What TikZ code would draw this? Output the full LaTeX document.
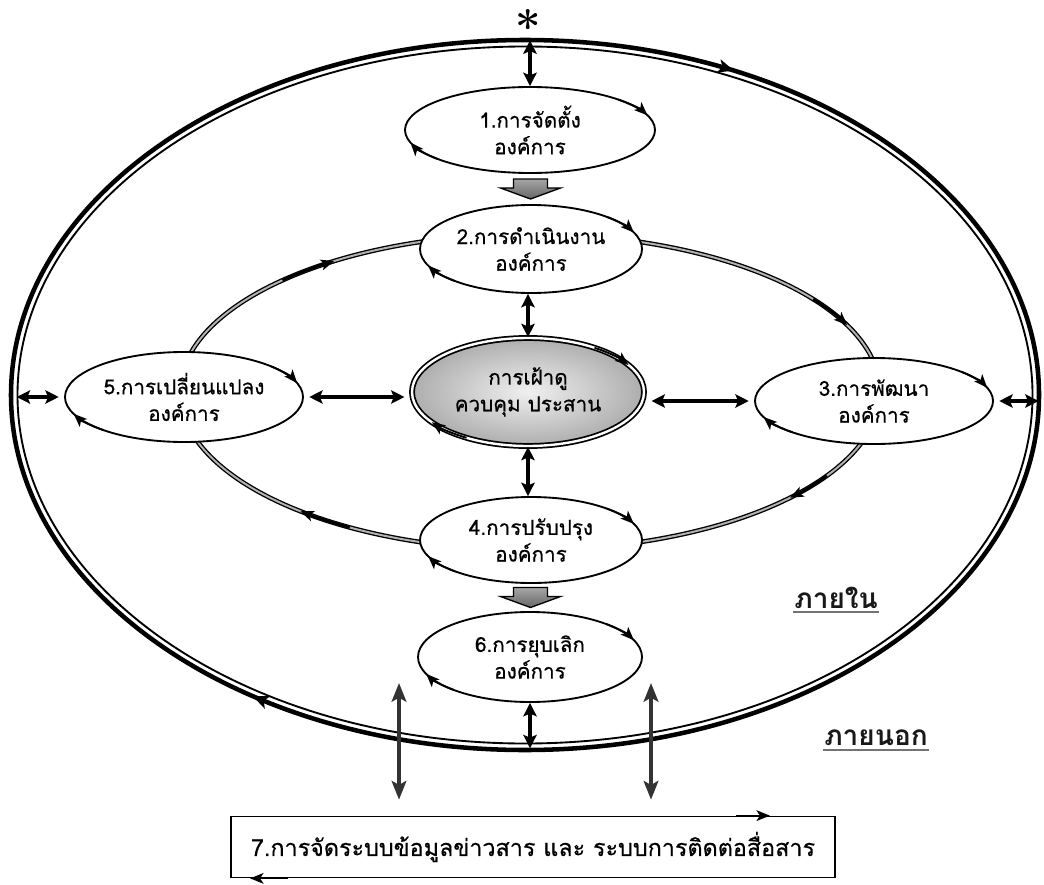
\documentclass[tikz,border=0pt]{standalone}
\usepackage{fontspec}
\newfontfamily\thai[Script=Thai,FakeBold=0.6]{Loma}
\newfontfamily\thaib[Script=Thai]{Loma}
\usetikzlibrary{shapes.geometric,arrows.meta,calc}
\begin{document}
\begin{tikzpicture}[x=0.75pt,y=-0.75pt,
  oval/.style={ellipse, draw=black, line width=1.4pt, fill=white, inner sep=0pt},
  lbl/.style={font=\thai\fontsize{15.5}{20}\selectfont, align=center, text=black},
  dbl/.style={{Stealth[length=10pt,width=10pt,inset=2pt]}-{Stealth[length=10pt,width=10pt,inset=2pt]}, line width=2.4pt},
  longdbl/.style={{Stealth[length=14pt,width=11pt,inset=3pt]}-{Stealth[length=14pt,width=11pt,inset=3pt]}, line width=3pt, black!80},
  tip/.style={-{Stealth[length=10pt,width=8pt,inset=2.5pt]}, line width=1.4pt},
  ringtip/.style={-{Stealth[length=10pt,width=8pt,inset=2.5pt]}, line width=2pt},
  outertip/.style={-{Stealth[length=12pt,width=10pt,inset=3pt]}, line width=2.6pt},
  ring/.style={draw=black, line width=1pt, double=black!30, double distance=1.5pt},
  block/.style={draw=black, line width=1pt, top color=black!35, bottom color=black!60},
  side/.style={font=\thaib\bfseries\fontsize{21}{24}\selectfont, text=black!90, inner sep=1pt}
]
\useasboundingbox (0,0) rectangle (1044,884);

% arrow on an elliptic loop: center, rx, ry, start, end, style
\newcommand\looptip[6]{\draw[#6] (#1) ++(#4:#2 and #3) arc[start angle=#4, end angle=#5, x radius=#2, y radius=#3];}

% outer ring
\node[ellipse, draw=black, line width=3.4pt, minimum width=771pt, minimum height=532.5pt, inner sep=0pt] (outer) at (525,395) {};
\draw[line width=1.4pt] (525,395) ellipse [x radius=507.5, y radius=348.5];
\coordinate (oc) at (525,395);
\looptip{oc}{514}{355}{-73}{-66}{outertip}
\looptip{oc}{514}{355}{115}{122}{outertip}

% inner cycle ring
\coordinate (rc) at (530,392);
\draw[ring] (rc) ellipse [x radius=350, y radius=158];
\looptip{rc}{350}{158}{-135}{-124}{ringtip}
\looptip{rc}{350}{158}{-36}{-25}{ringtip}
\looptip{rc}{350}{158}{32}{42}{ringtip}
\looptip{rc}{350}{158}{121}{131}{ringtip}

\node (star) at (528,27) {\fontsize{34}{34}\selectfont\bfseries *};

% ellipse nodes
\node[oval, minimum width=187.5pt, minimum height=64.5pt] (n1) at (530,130) {};
\node[oval, minimum width=166.5pt, minimum height=66pt] (n2) at (531,249) {};
\node[ellipse, draw=black, line width=1.3pt, double=white, double distance=1.8pt,
      inner color=black!6, outer color=black!32, minimum width=174pt, minimum height=81pt, inner sep=0pt] (c) at (528,392) {};
\node[oval, minimum width=178.5pt, minimum height=67.5pt] (n5) at (184,397) {};
\node[oval, minimum width=178.5pt, minimum height=64.5pt] (n3) at (874,401) {};
\node[oval, minimum width=166.5pt, minimum height=64.5pt] (n4) at (531,540) {};
\node[oval, minimum width=168pt, minimum height=67.5pt] (n6) at (530,657) {};

% arrowheads on the ellipses (clockwise)
\coordinate (c1) at (530,130);
\looptip{c1}{125}{43}{-45}{-20}{tip}
\looptip{c1}{125}{43}{138}{163}{tip}
\coordinate (c2) at (531,249);
\looptip{c2}{111}{44}{-47}{-22}{tip}
\looptip{c2}{111}{44}{133}{158}{tip}
\coordinate (cc) at (528,392);
\looptip{cc}{116}{54}{-55}{-30}{tip}
\looptip{cc}{116}{54}{122}{146}{tip}
\coordinate (c5) at (184,397);
\looptip{c5}{119}{45}{-43}{-18}{tip}
\looptip{c5}{119}{45}{133}{158}{tip}
\coordinate (c3) at (874,401);
\looptip{c3}{119}{43}{-43}{-18}{tip}
\looptip{c3}{119}{43}{133}{158}{tip}
\coordinate (c4) at (531,540);
\looptip{c4}{111}{43}{-47}{-22}{tip}
\looptip{c4}{111}{43}{133}{158}{tip}
\coordinate (c6) at (530,657);
\looptip{c6}{112}{45}{-47}{-22}{tip}
\looptip{c6}{112}{45}{133}{158}{tip}

% labels
\node[lbl] at (n1) {1.การจัดตั้ง\\องค์การ};
\node[lbl] at (n2) {2.การดำเนินงาน\\องค์การ};
\node[lbl] at (c) {การเฝ้าดู\\ควบคุม ประสาน};
\node[lbl] at (n5) {5.การเปลี่ยนแปลง\\องค์การ};
\node[lbl] at (n3) {3.การพัฒนา\\องค์การ};
\node[lbl] at (n4) {4.การปรับปรุง\\องค์การ};
\node[lbl] at (n6) {6.การยุบเลิก\\องค์การ};

% box 7
\node[draw=black, line width=1.3pt, minimum width=453pt, minimum height=45.75pt, inner sep=0pt,
      font=\thai\fontsize{17.5}{20}\selectfont, text=black] (box) at (533,847) {7.การจัดระบบข้อมูลข่าวสาร และ ระบบการติดต่อสื่อสาร};
\draw[tip] ($(box.north east)+(-100,0)$) -- ($(box.north east)+(-66,0)$);
\draw[tip] ($(box.south west)+(58,0)$) -- ($(box.south west)+(20,0)$);

% block arrows
\path (n1.south) -- (n2.north) coordinate[pos=0.5] (g1);
\draw[block] (g1) ++(-17,-10) -- ++(34,0) -- ++(0,9) -- ++(13,0) -- ++(-30,11) -- ++(-30,-11) -- ++(13,0) -- cycle;
\path (n4.south) -- (n6.north) coordinate[pos=0.5] (g2);
\draw[block] (g2) ++(-17,-10) -- ++(34,0) -- ++(0,9) -- ++(13,0) -- ++(-30,11) -- ++(-30,-11) -- ++(13,0) -- cycle;

% double arrows
\draw[dbl, shorten <=2pt] (outer.north -| n1.north) -- (n1.north);
\draw[dbl] (n2.south -| c.north) -- (c.north);
\draw[dbl] (c.south) -- (c.south |- n4.north);
\draw[dbl, shorten <=4pt, shorten >=5pt] (n5.east) -- (n5.east -| c.west);
\draw[dbl, shorten <=5pt, shorten >=4pt] (n3.west -| c.east) -- (n3.west);
\draw[dbl, shorten <=6pt, shorten >=4pt] (outer.west |- n5.west) -- (n5.west);
\draw[dbl, shorten <=4pt, shorten >=2pt] (n3.east) -- (n3.east -| outer.east);
\draw[dbl, shorten >=3pt] (n6.south) -- (n6.south |- outer.south);
\coordinate (la) at (399,683);
\coordinate (lb) at (651,683);
\draw[longdbl, shorten >=12pt] (la) -- (la |- box.north);
\draw[longdbl, shorten >=12pt] (lb) -- (lb |- box.north);

% side labels
\node[side] (inside) at (836,598) {ภายใน};
\draw[black!55, line width=1.5pt] ($(inside.south west)+(0,2)$) -- ($(inside.south east)+(0,2)$);
\node[side] (outside) at (876,738) {ภายนอก};
\draw[black!55, line width=1.5pt] ($(outside.south west)+(0,2)$) -- ($(outside.south east)+(0,2)$);
\end{tikzpicture}
\end{document}
